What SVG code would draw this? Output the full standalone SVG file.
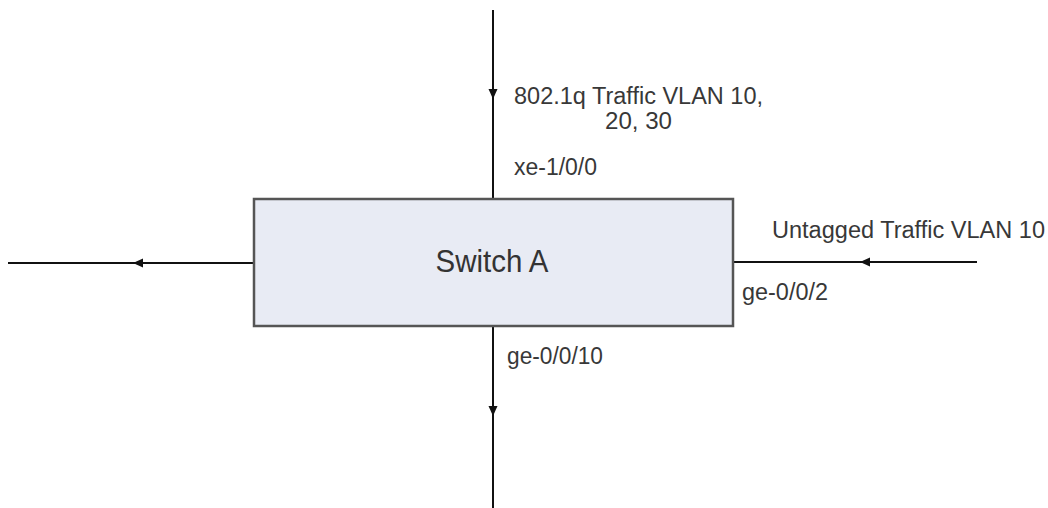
<svg xmlns="http://www.w3.org/2000/svg" width="1048" height="508" viewBox="0 0 1048 508">
<style>
.link{stroke:#111;stroke-width:2;fill:none}
.head{fill:#111}
.lbl{font-family:"Liberation Sans",Arial,sans-serif;font-size:23px;fill:#383838}
.title{font-family:"Liberation Sans",Arial,sans-serif;font-size:31px;fill:#333}
.box{fill:#e8ebf4;stroke:#555;stroke-width:2.5}
</style>
<rect width="1048" height="508" fill="#ffffff"/>
<g id="connectors">
<line class="link" x1="493" y1="10" x2="493" y2="199"/>
<polygon class="head" points="488.5,89 497.5,89 493,99"/>
<line class="link" x1="493" y1="326" x2="493" y2="508"/>
<polygon class="head" points="488.5,406 497.5,406 493,416"/>
<line class="link" x1="8" y1="263" x2="254" y2="263"/>
<polygon class="head" points="143,258.5 143,267.5 133,263"/>
<line class="link" x1="733" y1="262" x2="977" y2="262"/>
<polygon class="head" points="870,257.5 870,266.5 860,262"/>
</g>
<g id="switch-a">
<rect class="box" x="254" y="199" width="479" height="127"/>
<text class="title" x="492" y="272" text-anchor="middle" textLength="113" lengthAdjust="spacingAndGlyphs">Switch A</text>
</g>
<g id="labels">
<text class="lbl" x="514" y="104" textLength="249" lengthAdjust="spacingAndGlyphs">802.1q Traffic VLAN 10,</text>
<text class="lbl" x="605" y="129" textLength="67" lengthAdjust="spacingAndGlyphs">20, 30</text>
<text class="lbl" x="514" y="175" textLength="83" lengthAdjust="spacingAndGlyphs">xe-1/0/0</text>
<text class="lbl" x="772" y="238" textLength="273" lengthAdjust="spacingAndGlyphs">Untagged Traffic VLAN 10</text>
<text class="lbl" x="742" y="300" textLength="86" lengthAdjust="spacingAndGlyphs">ge-0/0/2</text>
<text class="lbl" x="507" y="364" textLength="96" lengthAdjust="spacingAndGlyphs">ge-0/0/10</text>
</g>
</svg>
